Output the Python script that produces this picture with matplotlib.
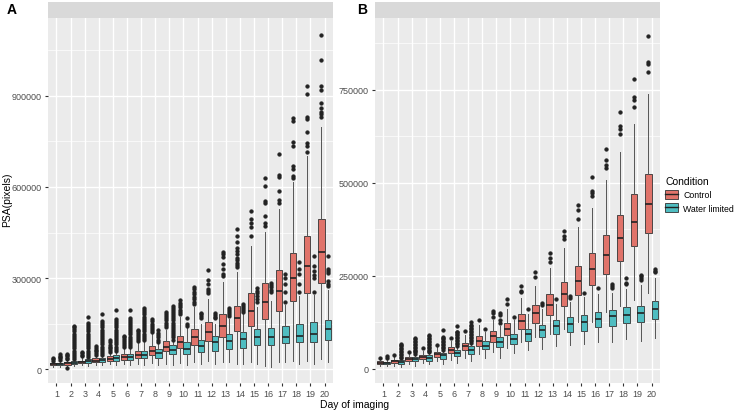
import numpy as np
import matplotlib
matplotlib.use("Agg")
import matplotlib.pyplot as plt
from matplotlib.patches import Patch
from matplotlib.lines import Line2D
from matplotlib.ticker import FixedLocator, FuncFormatter

plt.rcParams['font.family'] = ['Liberation Sans', 'DejaVu Sans']

# ---------------- data (values in thousands of pixels) ----------------
days = list(range(1, 21))
conditions = ["Control", "Water limited"]

# Panel A - Control
a_ctrl_lo  = [8, 9, 12, 14, 16, 18, 18, 20, 18, 20, 22, 27, 22, 16, 22, 11, 24, 27, 27, 33]
a_ctrl_q1  = [12, 13, 19, 22, 25, 31, 38, 46, 58, 71, 79, 91, 104, 124, 141, 165, 192, 224, 249, 284]
a_ctrl_med = [15, 19, 23, 28, 33, 40, 47, 60, 73, 88, 104, 123, 143, 167, 192, 222, 256, 299, 341, 385]
a_ctrl_q3  = [19, 24, 28, 35, 42, 49, 58, 77, 91, 110, 132, 156, 181, 209, 249, 284, 327, 382, 437, 495]
a_ctrl_hi  = [25, 30, 38, 42, 52, 66, 88, 115, 130, 170, 205, 232, 288, 319, 407, 451, 527, 615, 703, 799]
a_ctrl_out = [
    [28, 33, 38],
    [5, 34, 38, 42, 47, 50],
    [42, 47, 52, 56],
    [46, 52, 58, 64, 70, 77],
    [56, 62, 68, 74, 80, 88, 95],
    [72, 78, 85, 92, 98, 104, 110],
    [93, 100, 106, 112, 118, 124, 130],
    [121, 128, 135, 142, 150, 158, 166],
    [140, 146, 153, 160, 167, 174, 181, 188],
    [181, 188, 195, 203, 210, 218, 226],
    [214, 222, 230, 238, 246, 254, 263, 272],
    [249, 256, 264, 280, 294, 327],
    [308, 314, 330, 345, 368, 380, 387],
    [335, 342, 350, 358, 365, 380, 390, 400, 418, 440, 462],
    [440, 467, 481, 494, 522],
    [472, 480, 505, 548, 555, 602, 629],
    [548, 556, 588, 633, 640, 709],
    [629, 637, 660, 668, 736, 749, 818, 826],
    [714, 736, 745, 780, 825, 831, 907, 934],
    [831, 840, 847, 862, 876, 920, 934, 1019, 1101],
]

# Panel A - Water limited
a_wl_lo  = [8, 10, 10, 12, 12, 14, 14, 14, 14, 14, 16, 16, 22, 16, 16, 8, 22, 16, 16, 22]
a_wl_q1  = [12, 17, 20, 22, 27, 31, 35, 38, 49, 49, 57, 60, 66, 71, 79, 79, 85, 88, 90, 97]
a_wl_med = [15, 21, 25, 29, 35, 40, 47, 52, 63, 67, 77, 88, 93, 99, 104, 105, 107, 110, 117, 132]
a_wl_q3  = [20, 26, 33, 35, 46, 49, 59, 66, 80, 88, 97, 108, 115, 123, 132, 136, 141, 147, 154, 163]
a_wl_hi  = [27, 30, 36, 42, 56, 66, 90, 84, 92, 135, 150, 150, 165, 180, 205, 225, 210, 240, 245, 260]
a_wl_out = [
    [30, 35, 40, 44, 48],
    [33, 40, 47, 54, 61, 68, 75, 82, 89, 96, 103, 110, 117, 124, 131, 138, 143],
    [40, 47, 54, 61, 68, 75, 82, 89, 96, 103, 110, 117, 124, 131, 138, 145, 152, 172],
    [46, 53, 60, 67, 74, 81, 88, 95, 102, 109, 116, 123, 130, 137, 144, 151, 158, 180],
    [60, 67, 74, 81, 88, 95, 102, 109, 116, 123, 130, 137, 144, 151, 158, 165, 193],
    [72, 79, 86, 93, 100, 107, 114, 121, 128, 135, 142, 149, 156, 163, 169, 193],
    [96, 103, 110, 117, 124, 131, 138, 145, 152, 159, 166, 173, 180, 187, 194, 200],
    [90, 97, 104, 112, 120, 128],
    [97, 104, 111, 118, 125, 132, 139, 146, 153, 160, 167, 174, 181, 188, 195, 202, 208],
    [143, 150, 167],
    [168, 174, 180, 186],
    [167, 172, 178, 184],
    [176, 182, 188, 194, 200],
    [187, 194, 200, 207, 214],
    [222, 230, 240, 250, 258, 266],
    [253, 262, 270, 277, 284],
    [220, 253, 280, 300, 313],
    [253, 280, 313, 330, 352],
    [253, 299, 310, 324, 341, 374],
    [275, 280, 290, 316, 323, 330, 374],
]

# Panel B - Control
b_ctrl_lo  = [8, 7, 12, 16, 20, 24, 30, 40, 45, 55, 72, 85, 94, 107, 125, 125, 154, 170, 186, 204]
b_ctrl_q1  = [13, 15, 21, 27, 33, 43, 51, 62, 73, 91, 107, 123, 145, 168, 198, 225, 255, 290, 329, 364]
b_ctrl_med = [16, 20, 27, 33, 39, 50, 61, 76, 89, 107, 128, 150, 172, 201, 237, 268, 306, 353, 395, 442]
b_ctrl_q3  = [20, 25, 31, 38, 45, 58, 69, 87, 103, 123, 147, 172, 201, 234, 277, 311, 359, 414, 469, 525]
b_ctrl_hi  = [25, 31, 40, 48, 58, 74, 92, 118, 130, 162, 190, 223, 272, 326, 382, 433, 507, 584, 657, 739]
b_ctrl_out = [
    [29], [36], [45], [55], [65], [82], [103], [130],
    [139, 150, 156],
    [174, 189],
    [206, 210, 223],
    [246, 259],
    [288, 299, 311],
    [348, 356, 371],
    [404, 427, 440],
    [464, 474, 478, 516],
    [540, 547, 561, 591],
    [631, 646, 652, 690],
    [704, 722, 732, 779],
    [797, 820, 826, 895],
]

# Panel B - Water limited
b_wl_lo  = [8, 6, 8, 12, 14, 16, 20, 28, 30, 42, 52, 54, 61, 63, 67, 73, 71, 79, 76, 82]
b_wl_q1  = [12, 14, 20, 21, 27, 34, 40, 54, 58, 67, 76, 85, 94, 100, 103, 112, 116, 123, 127, 134]
b_wl_med = [16, 18, 26, 28, 36, 43, 51, 62, 72, 80, 95, 105, 114, 121, 127, 134, 141, 145, 150, 161]
b_wl_q3  = [19, 23, 32, 36, 43, 52, 61, 76, 85, 94, 107, 119, 130, 139, 146, 154, 158, 165, 168, 183]
b_wl_hi  = [25, 26, 36, 40, 48, 58, 66, 98, 115, 130, 147, 160, 175, 180, 192, 200, 205, 215, 225, 245]
b_wl_out = [
    [29, 34],
    [29, 33, 37, 41, 45, 49, 53, 57, 61, 65, 67],
    [40, 44, 48, 52, 56, 60, 64, 68, 72, 76, 80, 82],
    [44, 48, 52, 56, 60, 64, 68, 72, 76, 80, 84, 88, 91],
    [52, 56, 60, 64, 68, 72, 76, 80, 84, 86, 105],
    [62, 66, 70, 74, 78, 82, 86, 90, 94, 98, 100, 114],
    [70, 74, 78, 82, 86, 90, 94, 98, 102, 106, 110, 114, 118, 127],
    [107],
    [124, 130, 145, 150],
    [139],
    [161],
    [172, 177],
    [188],
    [190, 197],
    [205],
    [217],
    [216, 222, 228],
    [228, 232, 243],
    [239, 244, 249, 253],
    [259, 263, 268],
]

a_yticks = [0, 300000, 600000, 900000]
b_yticks = [0, 250000, 500000, 750000]

# ---------------- style ----------------
ctrl_color = "#E0736A"
wl_color = "#4FBDC1"
panel_bg = "#EBEBEB"
strip_bg = "#D9D9D9"


def make_stats(lo, q1, med, q3, hi, out):
    stats = []
    for i in range(len(lo)):
        stats.append({
            "whislo": lo[i] * 1000, "q1": q1[i] * 1000, "med": med[i] * 1000,
            "q3": q3[i] * 1000, "whishi": hi[i] * 1000,
            "fliers": np.array(out[i]) * 1000,
        })
    return stats


def draw_panel(ax, ctrl, wl, yticks, ylim):
    ax.set_facecolor(panel_bg)
    for s in ax.spines.values():
        s.set_visible(False)
    pos = np.array(days, dtype=float)
    for stats, off, col in [(ctrl, -0.225, ctrl_color), (wl, 0.225, wl_color)]:
        ax.bxp(stats, positions=pos + off, widths=0.45, patch_artist=True,
               showcaps=False,
               boxprops=dict(facecolor=col, edgecolor="#333333", linewidth=0.6),
               medianprops=dict(color="#222222", linewidth=1.2),
               whiskerprops=dict(color="#555555", linewidth=0.7),
               flierprops=dict(marker="o", markersize=2.7, markerfacecolor="#222222",
                               markeredgecolor="#222222", markeredgewidth=0.3,
                               linestyle="none"),
               zorder=3)
    ax.set_xlim(0.4, 20.6)
    ax.set_ylim(*ylim)
    ax.set_xticks(days)
    ax.set_xticklabels([str(d) for d in days])
    ax.yaxis.set_major_locator(FixedLocator(yticks))
    ax.yaxis.set_major_formatter(FuncFormatter(lambda v, p: "%d" % v))
    step = yticks[1] - yticks[0]
    minors = [t + step / 2 for t in yticks]
    ax.yaxis.set_minor_locator(FixedLocator(minors))
    ax.grid(True, which="major", color="white", linewidth=1.0, zorder=0)
    ax.grid(True, which="minor", axis="y", color="white", linewidth=0.5, zorder=0)
    ax.set_axisbelow(True)
    ax.tick_params(axis="both", which="major", length=2.5, color="#333333",
                   labelcolor="#4D4D4D", labelsize=6.5, pad=2)
    ax.tick_params(axis="both", which="minor", length=0)


fig = plt.figure(figsize=(7.44, 4.14), dpi=100)

ax_a = fig.add_axes([48 / 744, 1 - 384 / 414, 285 / 744, 365 / 414])
ax_b = fig.add_axes([375 / 744, 1 - 384 / 414, 285 / 744, 365 / 414])

draw_panel(ax_a,
           make_stats(a_ctrl_lo, a_ctrl_q1, a_ctrl_med, a_ctrl_q3, a_ctrl_hi, a_ctrl_out),
           make_stats(a_wl_lo, a_wl_q1, a_wl_med, a_wl_q3, a_wl_hi, a_wl_out),
           a_yticks, (-46000, 1157000))
draw_panel(ax_b,
           make_stats(b_ctrl_lo, b_ctrl_q1, b_ctrl_med, b_ctrl_q3, b_ctrl_hi, b_ctrl_out),
           make_stats(b_wl_lo, b_wl_q1, b_wl_med, b_wl_q3, b_wl_hi, b_wl_out),
           b_yticks, (-38000, 943000))

# empty facet strips
for left in (48, 375):
    sax = fig.add_axes([left / 744, 1 - 19 / 414, 285 / 744, 16 / 414])
    sax.set_facecolor(strip_bg)
    sax.set_xticks([])
    sax.set_yticks([])
    for s in sax.spines.values():
        s.set_visible(False)

fig.text(12 / 744, 1 - 10 / 414, "A", fontsize=10, fontweight="bold", ha="center", va="center")
fig.text(362 / 744, 1 - 10 / 414, "B", fontsize=10, fontweight="bold", ha="center", va="center")
fig.text(7 / 744, 1 - 200 / 414, "PSA(pixels)", rotation=90, fontsize=7.5,
         ha="center", va="center")
fig.text(355 / 744, 1 - 405 / 414, "Day of imaging", fontsize=7.5, ha="center", va="center")

handles = [
    (Patch(facecolor=ctrl_color, edgecolor="#333333", linewidth=0.6),
     Line2D([], [], color="#222222", linewidth=1.0)),
    (Patch(facecolor=wl_color, edgecolor="#333333", linewidth=0.6),
     Line2D([], [], color="#222222", linewidth=1.0)),
]
leg = fig.legend(handles, conditions, title="Condition", loc="upper left",
                 bbox_to_anchor=(665 / 744, 1 - 177 / 414), frameon=False,
                 fontsize=6.3, title_fontsize=7.5, handlelength=1.5, handleheight=1.2,
                 handletextpad=0.6, labelspacing=0.45, borderaxespad=0, borderpad=0)
leg._legend_box.align = "left"

fig.savefig("out.png", dpi=100)
